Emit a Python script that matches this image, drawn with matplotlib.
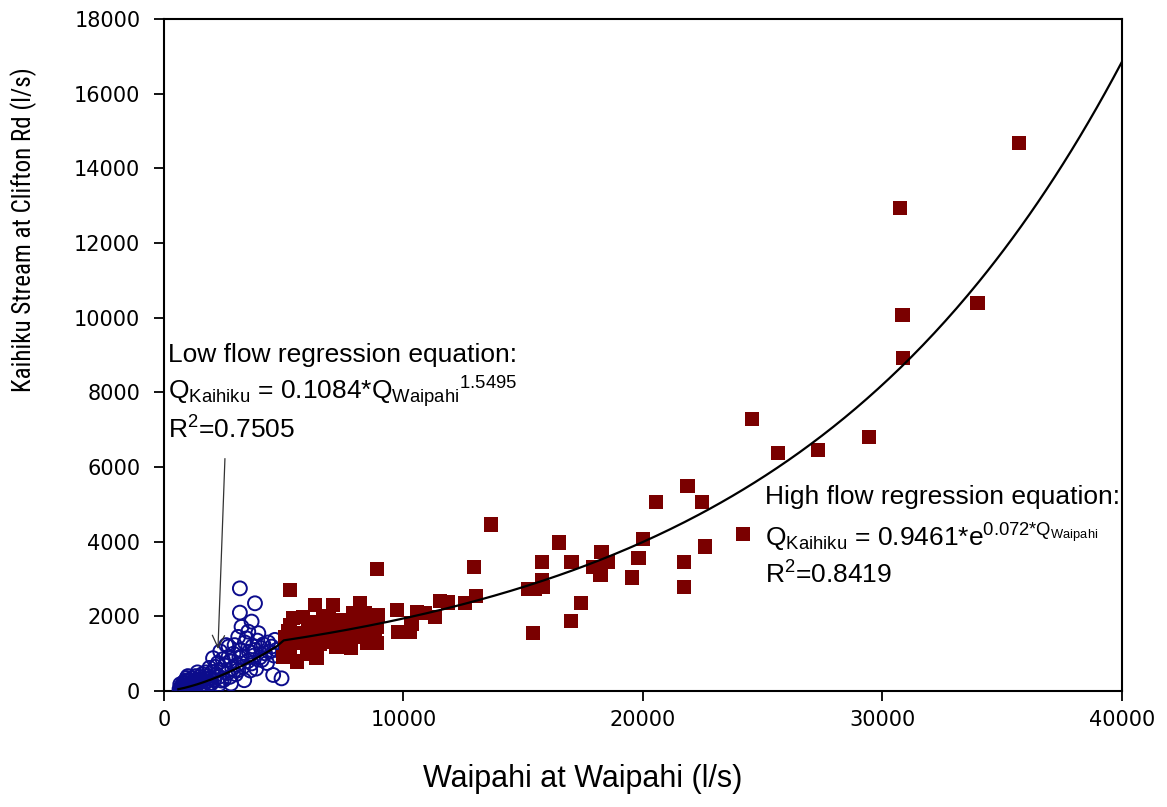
import matplotlib
matplotlib.use('Agg')
import matplotlib.pyplot as plt
from matplotlib import font_manager
import numpy as np

# Low flow observations (l/s): Waipahi flow vs Kaihiku flow
low_x = [650, 700, 720, 750, 780, 800, 820, 850, 880, 900, 920, 950, 970, 1000, 1020,
         1050, 1080, 1100, 1120, 1150, 1200, 1220, 1250, 1300, 1320, 1350, 1400, 1450,
         1500, 1520, 1550, 1600, 1650, 1700, 1750, 1800, 1850, 1900, 1920, 1950, 2000,
         2050, 2100, 2150, 2200, 2250, 2300, 2350, 2400, 2450, 2500, 2550, 2600, 2650,
         2700, 2700, 2750, 2800, 2850, 2900, 2950, 3000, 3050, 3100, 3100, 3150, 3170,
         3170, 3200, 3240, 3240, 3300, 3350, 3380, 3450, 3500, 3520, 3550, 3600, 3660,
         3660, 3700, 3750, 3800, 3800, 3850, 3900, 3940, 4000, 4050, 4080, 4150, 4220,
         4300, 4350, 4400, 4500, 4560, 4600, 4630, 4700, 4910, 680, 900, 1100, 1300,
         950, 1600, 2000, 2300, 1800, 800, 1000, 1400, 2400, 2800, 1200]
low_y = [50, 80, 120, 40, 100, 150, 70, 120, 200, 90, 140, 250, 60, 110, 180,
         300, 130, 220, 80, 160, 350, 120, 240, 190, 400, 150, 280, 220,
         380, 120, 300, 450, 200, 330, 500, 260, 400, 620, 200, 350, 500,
         880, 300, 650, 450, 750, 380, 1060, 550, 850, 300, 680, 1230, 480,
         920, 1190, 380, 790, 600, 1000, 1230, 450, 700, 560, 1450, 900, 2100,
         2750, 1100, 920, 1720, 650, 290, 1300, 1410, 800, 1590, 1050, 550, 740,
         1860, 1200, 950, 2350, 1100, 600, 1350, 1550, 900, 1150, 830, 1250, 1010,
         750, 1300, 1050, 1190, 430, 950, 1370, 1100, 340, 180, 280, 50, 80,
         350, 100, 220, 180, 120, 220, 400, 500, 280, 200, 30]

# High flow observations (l/s)
high_x = [35700, 30720, 30840, 30860, 33970, 24560, 25650, 27320, 29450, 22450, 20560, 21860,
          13650, 16490, 15770, 17020, 18270, 17930, 18520, 18230, 19810, 20010, 19550, 21710,
          21710, 22590, 24190, 15210, 15490, 15840, 17410, 16990, 15420, 15770,
          12960, 8910, 13030, 12570, 11520, 11850, 11320, 10900, 10550, 9720, 8950, 10340,
          9780, 10270, 8810, 8880, 8600,
          5260, 6300, 7070, 8180, 5820, 6650, 7900, 8600, 5260, 7350, 8320, 5050, 5680,
          6230, 6930, 7770, 8320, 5260, 5960, 6370, 5540, 4980, 7630, 8880, 6790, 7200,
          5500, 6000, 6500, 7000, 7500, 8000, 8500, 5100, 5800, 6200, 6900, 7400, 8100,
          5400, 6100, 6600, 7200, 7800, 8400, 5200]
high_y = [14680, 12940, 10070, 8920, 10390, 7280, 6370, 6460, 6810, 5070, 5070, 5490,
          4460, 3980, 3450, 3450, 3730, 3330, 3460, 3120, 3570, 4070, 3040, 3460,
          2790, 3870, 4200, 2730, 2730, 2780, 2350, 1880, 1550, 2970,
          3330, 3260, 2540, 2350, 2410, 2370, 1990, 2080, 2120, 2170, 2040, 1810,
          1590, 1590, 1550, 1280, 1720,
          2710, 2300, 2300, 2350, 1990, 1990, 2080, 1990, 1770, 1810, 1770, 1450, 1550,
          1450, 1320, 1320, 1450, 1100, 1100, 880, 790, 920, 1550, 1720, 1680, 1190,
          1300, 1600, 1250, 1600, 1900, 1600, 1300, 1200, 1400, 1850, 2000, 1450, 1850,
          1950, 1000, 1550, 1750, 1150, 2100, 1600]

# regression equations (flows in m3/s)
low_a, low_b = 0.1084, 1.5495
high_a, high_k = 0.9461, 0.072

plt.rcParams['mathtext.fontset'] = 'custom'
plt.rcParams['mathtext.rm'] = 'Liberation Sans'
plt.rcParams['mathtext.it'] = 'Liberation Sans:italic'
plt.rcParams['mathtext.bf'] = 'Liberation Sans:bold'

# pick a narrow face for the y label if one is installed
names = set(f.name for f in font_manager.fontManager.ttflist)
narrow = [n for n in ['Liberation Sans Narrow', 'Roboto Condensed', 'Open Sans Condensed',
                      'DejaVu Sans Condensed'] if n in names]

fig = plt.figure(figsize=(11.67, 8.07), dpi=100)
ax = fig.add_axes([0.1405, 0.1437, 0.8209, 0.8328])

ax.scatter(low_x, low_y, s=100, facecolors='none', edgecolors='#0c0c8c', linewidths=1.4, zorder=3)
ax.scatter(high_x, high_y, s=105, marker='s', color='#7a0000', edgecolors='none', zorder=3)

# fitted curves
xl = np.linspace(600, 4700, 100)
yl = low_a * (xl / 1000) ** low_b * 1000
xh = np.linspace(5000, 40000, 300)
yh = high_a * np.exp(high_k * xh / 1000) * 1000
ax.plot(np.concatenate([xl, xh]), np.concatenate([yl, yh]), color='black', lw=1.6, zorder=4)

ax.set_xlim(0, 40000)
ax.set_ylim(0, 18000)
ax.set_xticks([0, 10000, 20000, 30000, 40000])
ax.set_yticks(np.arange(0, 18001, 2000))
ax.tick_params(direction='out', length=7, width=1.3, labelsize=15, top=False, right=False)
ax.tick_params(axis='x', pad=7)
ax.tick_params(axis='y', pad=10)
for lab in ax.get_xticklabels() + ax.get_yticklabels():
    lab.set_family('DejaVu Sans')
for sp in ax.spines.values():
    sp.set_linewidth(1.5)

ax.set_xlabel('Waipahi at Waipahi (l/s)', fontsize=22, family='Liberation Sans')
ax.xaxis.set_label_coords(0.437, -0.108)
if narrow:
    ax.set_ylabel('Kaihiku Stream at Clifton Rd (l/s)', fontsize=18, family=narrow[0])
else:
    ax.set_ylabel('Kaihiku Stream at Clifton Rd (l/s)', fontsize=16.5, family='Liberation Sans')
ax.yaxis.set_label_coords(-0.133, 0.686)

fs = 19
ax.text(170, 9000, 'Low flow regression equation:', fontsize=fs, family='Liberation Sans', va='center')
ax.text(170, 8000, r'Q$_{\mathrm{Kaihiku}}$ = 0.1084*Q$_{\mathrm{Waipahi}}{}^{\mathrm{1.5495}}$',
        fontsize=fs, family='Liberation Sans', va='center')
ax.text(170, 7000, r'R$^{\mathrm{2}}$=0.7505', fontsize=fs, family='Liberation Sans', va='center')

ax.text(25100, 5200, 'High flow regression equation:', fontsize=fs, family='Liberation Sans', va='center')
ax.text(25100, 4100, r'Q$_{\mathrm{Kaihiku}}$ = 0.9461*e$^{\mathrm{0.072{*}Q_{Waipahi}}}$',
        fontsize=fs, family='Liberation Sans', va='center')
ax.text(25100, 3100, r'R$^{\mathrm{2}}$=0.8419', fontsize=fs, family='Liberation Sans', va='center')

ax.annotate('', xy=(2250, 1050), xytext=(2550, 6300),
            arrowprops=dict(arrowstyle='->', color='#333333', lw=0.9, mutation_scale=22))

fig.savefig('out.png', dpi=100)
